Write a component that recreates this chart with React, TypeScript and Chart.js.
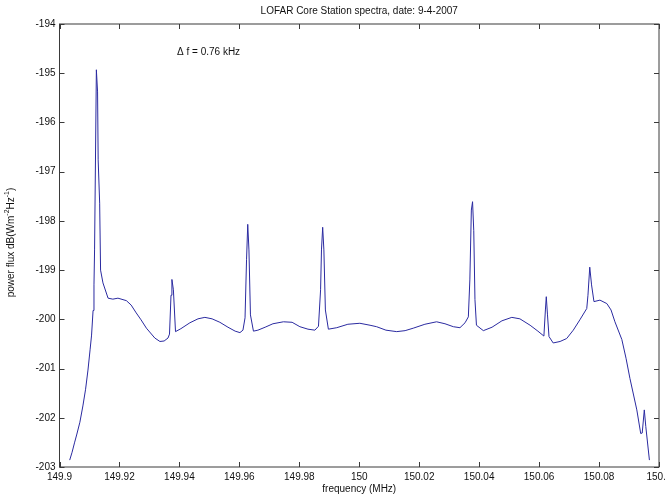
import React, { useEffect, useRef } from "react";
import { Chart, registerables } from "chart.js";

Chart.register(...registerables);

// ---- data ----
const frequencyMHz = [
  149.9034, 149.9042, 149.905, 149.9058, 149.9068, 149.9078, 149.9087, 149.9095, 149.9102, 149.9107,
  149.9112, 149.9115, 149.9117, 149.9123, 149.9127, 149.9129,
  149.9134, 149.9137, 149.9145, 149.9162, 149.9178, 149.9195, 149.9223, 149.9239, 149.9256, 149.9272,
  149.929, 149.9318, 149.9335, 149.9349, 149.9362, 149.9367, 149.9372, 149.9375, 149.938, 149.9387,
  149.9405, 149.9435, 149.9462, 149.9485, 149.9509, 149.9535, 149.9562, 149.9586, 149.9602, 149.9612,
  149.9619, 149.9624, 149.9628, 149.9632, 149.9637, 149.9647, 149.9662, 149.9686, 149.9712, 149.9747,
  149.9776, 149.9802, 149.9829, 149.9852, 149.9864, 149.9871, 149.9874, 149.9878, 149.9882, 149.9887,
  149.9897, 149.9925, 149.9962, 150.0002, 150.0036, 150.0058, 150.0089, 150.0125, 150.0153, 150.018,
  150.0219, 150.0258, 150.0286, 150.0314, 150.0336, 150.0353, 150.0364, 150.0369, 150.0374, 150.0378,
  150.0382, 150.0386, 150.0391, 150.0414, 150.0443, 150.0476, 150.0509, 150.0536, 150.057, 150.0596,
  150.0616, 150.0621, 150.0624, 150.0628, 150.0633, 150.0647, 150.067, 150.0692, 150.0714, 150.0736,
  150.0759, 150.0763, 150.0769, 150.0775, 150.0783, 150.0803, 150.0826, 150.084, 150.0853, 150.0876,
  150.089, 150.0903, 150.0926, 150.0939, 150.0944, 150.0951, 150.0956, 150.0968,
];

const powerDb = [
  -202.86, -202.7, -202.51, -202.33, -202.09, -201.76, -201.42, -201.03, -200.62, -200.32,
  -199.82, -199.3, -198.59, -194.93, -195.38, -196.76,
  -197.64, -199.0, -199.26, -199.57, -199.59, -199.57, -199.62, -199.71, -199.87, -200.01,
  -200.18, -200.38, -200.45, -200.44, -200.38, -200.3, -199.51, -199.19, -199.4, -200.25,
  -200.19, -200.07, -199.99, -199.96, -199.99, -200.06, -200.16, -200.24, -200.27, -200.22,
  -199.97, -198.79, -198.07, -198.59, -199.91, -200.24, -200.22, -200.16, -200.09, -200.05,
  -200.06, -200.15, -200.2, -200.22, -200.14, -199.4, -198.59, -198.13, -198.59, -199.81,
  -200.2, -200.17, -200.1, -200.08, -200.12, -200.15, -200.22, -200.25, -200.23, -200.18,
  -200.1, -200.05, -200.09, -200.15, -200.17, -200.07, -199.95, -199.2, -197.78, -197.61,
  -198.2, -199.6, -200.12, -200.23, -200.16, -200.03, -199.96, -199.99, -200.12, -200.24,
  -200.34, -199.81, -199.54, -199.91, -200.35, -200.48, -200.45, -200.39, -200.22, -200.01,
  -199.78, -199.51, -198.94, -199.3, -199.64, -199.61, -199.68, -199.81, -200.05, -200.41,
  -200.79, -201.2, -201.84, -202.32, -202.31, -201.84, -202.18, -202.86,
];

const xMin = 149.9;
const xMax = 150.1;
const xStep = 0.02;
const yMin = -203;
const yMax = -194;
const yStep = 1;

const titleText = "LOFAR Core Station spectra, date: 9-4-2007";
const xAxisTitle = "frequency (MHz)";
const yAxisTitleParts = ["power flux dB(Wm", "-2", "Hz", "-1", ")"];
const annotationText = "\u0394 f = 0.76 kHz";
const annotationFreq = 149.9392;
const annotationDb = -194.57;

const FONT_FAMILY = "'Liberation Sans', Arial, Helvetica, sans-serif";
const TEXT_COLOR = "#111111";
const AXIS_COLOR = "#3a3a3a";
const LINE_COLOR = "#2a2aa0";

const matlabAxes = {
  id: "matlabAxes",
  afterDraw(chart: any) {
    const { ctx, chartArea: a, scales } = chart;
    const xs = scales.x;
    const ys = scales.y;
    ctx.save();
    // box
    ctx.strokeStyle = AXIS_COLOR;
    ctx.lineWidth = 1;
    ctx.strokeRect(a.left, a.top, a.right - a.left, a.bottom - a.top);
    // inward ticks on all four sides
    const tl = 5;
    ctx.beginPath();
    xs.ticks.forEach((t: any) => {
      const p = Math.round(xs.getPixelForValue(t.value)) + 0.5;
      ctx.moveTo(p, a.bottom);
      ctx.lineTo(p, a.bottom - tl);
      ctx.moveTo(p, a.top);
      ctx.lineTo(p, a.top + tl);
    });
    ys.ticks.forEach((t: any) => {
      const p = Math.round(ys.getPixelForValue(t.value)) + 0.5;
      ctx.moveTo(a.left, p);
      ctx.lineTo(a.left + tl, p);
      ctx.moveTo(a.right, p);
      ctx.lineTo(a.right - tl, p);
    });
    ctx.stroke();

    // title
    ctx.fillStyle = TEXT_COLOR;
    ctx.font = `10px ${FONT_FAMILY}`;
    ctx.textAlign = "center";
    ctx.textBaseline = "middle";
    ctx.fillText(titleText, (a.left + a.right) / 2, 11);

    // annotation
    ctx.textAlign = "left";
    ctx.fillText(annotationText, xs.getPixelForValue(annotationFreq), ys.getPixelForValue(annotationDb));

    // y-axis title with superscripts
    const normal = `10px ${FONT_FAMILY}`;
    const small = `7px ${FONT_FAMILY}`;
    let total = 0;
    const widths = yAxisTitleParts.map((s, i) => {
      ctx.font = i % 2 === 1 ? small : normal;
      const w = ctx.measureText(s).width;
      total += w;
      return w;
    });
    ctx.translate(11, (a.top + a.bottom) / 2 - 3);
    ctx.rotate(-Math.PI / 2);
    ctx.textAlign = "left";
    let cx = -total / 2;
    yAxisTitleParts.forEach((s, i) => {
      const sup = i % 2 === 1;
      ctx.font = sup ? small : normal;
      ctx.fillText(s, cx, sup ? -4 : 0);
      cx += widths[i];
    });
    ctx.restore();
  },
};

function fmt(v: number) {
  return String(Number(v.toFixed(2)));
}

export default function App() {
  const canvasRef = useRef<HTMLCanvasElement | null>(null);

  useEffect(() => {
    const canvas = canvasRef.current;
    if (!canvas) return;
    const points = frequencyMHz.map((f, i) => ({ x: f, y: powerDb[i] }));
    const chart = new Chart(canvas, {
      type: "line",
      data: {
        datasets: [
          {
            data: points,
            borderColor: LINE_COLOR,
            borderWidth: 1,
            pointRadius: 0,
            tension: 0,
            fill: false,
          },
        ],
      },
      options: {
        responsive: false,
        animation: false,
        events: [],
        layout: { padding: { top: 24, right: 6, left: 0, bottom: 0 } },
        plugins: {
          legend: { display: false },
          title: { display: false },
          tooltip: { enabled: false },
        },
        scales: {
          x: {
            type: "linear",
            min: xMin,
            max: xMax,
            grid: { display: false, drawTicks: false },
            border: { display: false },
            ticks: {
              stepSize: xStep,
              padding: 4,
              maxRotation: 0,
              autoSkip: false,
              color: TEXT_COLOR,
              font: { size: 10, family: FONT_FAMILY },
              callback: (v: any) => fmt(Number(v)),
            },
            title: {
              display: true,
              text: xAxisTitle,
              color: TEXT_COLOR,
              font: { size: 10, family: FONT_FAMILY },
              padding: { top: 0, bottom: 3 },
            },
            afterFit: (scale: any) => {
              scale.height = 31;
              scale.paddingLeft = 0;
              scale.paddingRight = 0;
            },
          },
          y: {
            type: "linear",
            min: yMin,
            max: yMax,
            grid: { display: false, drawTicks: false },
            border: { display: false },
            ticks: {
              stepSize: yStep,
              padding: 4,
              autoSkip: false,
              color: TEXT_COLOR,
              font: { size: 10, family: FONT_FAMILY },
              callback: (v: any) => fmt(Number(v)),
            },
            afterFit: (scale: any) => {
              scale.width = 59.5;
              scale.paddingTop = 0;
              scale.paddingBottom = 0;
            },
          },
        },
      },
      plugins: [matlabAxes],
    });
    return () => chart.destroy();
  }, []);

  return (
    <div style={{ position: "absolute", left: 0, top: 0, width: 665, height: 498, background: "#fff", overflow: "hidden" }}>
      <canvas ref={canvasRef} width={665} height={498} style={{ display: "block" }} />
    </div>
  );
}
